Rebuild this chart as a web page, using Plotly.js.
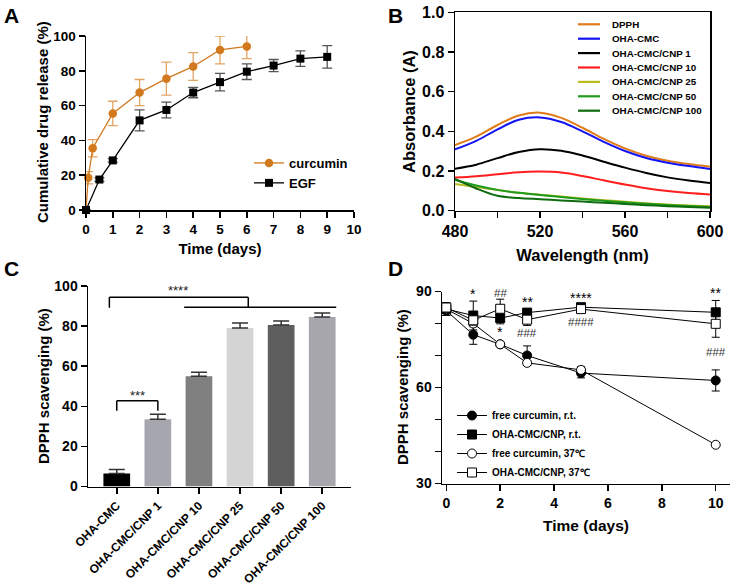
<!DOCTYPE html>
<html><head><meta charset="utf-8">
<script src="https://cdn.plot.ly/plotly-3.0.1.min.js"></script>
<style>body{margin:0;background:#fff;} #chart{width:733px;height:587px;}</style>
</head><body><div id="chart"></div>
<script>
// ---------- DATA ----------
// Panel A: cumulative release
const curTime = [0, 0.083, 0.25, 1, 2, 3, 4, 5, 6];
const curRelease = [0, 18.5, 35.5, 55.5, 67.5, 75.5, 82.5, 92, 94];
const curErr = [0, 3.5, 5, 7, 7.5, 9.5, 8, 8, 7];
const egfTime = [0, 0.5, 1, 2, 3, 4, 5, 6, 7, 8, 9];
const egfRelease = [0, 17.5, 28.5, 51.5, 57.5, 67.5, 73.5, 79.5, 83, 87, 88];
const egfErr = [0, 1, 1, 6, 4.5, 3, 5, 4.5, 3.5, 4.5, 6.5];
const aNames = ['curcumin', 'EGF'];

// Panel B: absorbance spectra
const wavelength = [480, 490, 500, 510, 520, 530, 540, 550, 560, 570, 580, 590, 600];
const absDPPH   = [0.331, 0.373, 0.432, 0.480, 0.494, 0.468, 0.418, 0.362, 0.314, 0.277, 0.252, 0.235, 0.222];
const absOHA    = [0.309, 0.352, 0.410, 0.458, 0.470, 0.447, 0.400, 0.347, 0.301, 0.266, 0.242, 0.225, 0.210];
const absCNP1   = [0.212, 0.232, 0.265, 0.296, 0.310, 0.302, 0.278, 0.247, 0.217, 0.190, 0.168, 0.152, 0.140];
const absCNP10  = [0.167, 0.174, 0.184, 0.194, 0.197, 0.192, 0.175, 0.153, 0.132, 0.113, 0.099, 0.089, 0.082];
const absCNP25  = [0.135, 0.120, 0.104, 0.091, 0.081, 0.071, 0.062, 0.053, 0.045, 0.037, 0.031, 0.026, 0.022];
const absCNP50  = [0.155, 0.127, 0.105, 0.090, 0.079, 0.069, 0.059, 0.050, 0.042, 0.035, 0.029, 0.024, 0.019];
const absCNP100 = [0.160, 0.112, 0.075, 0.064, 0.058, 0.052, 0.046, 0.040, 0.034, 0.028, 0.023, 0.019, 0.015];
const bNames = ['DPPH', 'OHA-CMC', 'OHA-CMC/CNP 1', 'OHA-CMC/CNP 10', 'OHA-CMC/CNP 25', 'OHA-CMC/CNP 50', 'OHA-CMC/CNP 100'];

// Panel C: DPPH scavenging bars
const cCategories = ['OHA-CMC', 'OHA-CMC/CNP 1', 'OHA-CMC/CNP 10', 'OHA-CMC/CNP 25', 'OHA-CMC/CNP 50', 'OHA-CMC/CNP 100'];
const cValues = [6.5, 33.5, 55, 79, 80.5, 84.5];
const cErrors = [2, 2.5, 2, 2.5, 2, 2];
const cSigText = ['***', '****'];
const cSigX = [0.5, 1.49];
const cSigY = [45.5, 97.8];
// bracket polylines (category index, value)
const cBracket1X = [0, 0, 1, 1];
const cBracket1Y = [37.8, 42.8, 42.8, 37.8];
const cBracket2X = [-0.18, -0.18, 3.2, 3.2];
const cBracket2Y = [89.2, 94.4, 94.4, 89.4];
const cBracket3X = [1.64, 5.34];
const cBracket3Y = [89.4, 89.4];

// Panel D: stability over time
const dTime = [0, 1, 2, 3, 5, 10];
const freeRT = [84, 76.5, 73.5, 70, 64.5, 62.2];
const freeRTErr = [1.5, 3, 0.5, 3, 1.5, 3.3];
const cnpRT = [84.5, 82.5, 81.7, 83.4, 85.1, 83.5];
const cnpRTErr = [2, 4.5, 1.8, 0.8, 0.8, 3.7];
const free37 = [84.5, 80, 73.5, 67.7, 65.5, 42.1];
const free37Err = [1, 1, 0.5, 0.5, 1, 0.5];
const cnp37 = [85, 81, 84.6, 81.2, 84.5, 79.9];
const cnp37Err = [1.5, 1.5, 3, 1.8, 0.8, 4.2];
const dNames = ['free curcumin, r.t.', 'OHA-CMC/CNP, r.t.', 'free curcumin, 37\u2103', 'OHA-CMC/CNP, 37\u2103'];
const dSigText = ['*', '##', '*', '**', '###', '****', '####', '**', '###'];
const dSigX = [1, 2, 2, 3, 3, 5, 5, 10, 10];
const dSigY = [89.3, 89.5, 77.5, 86.6, 77.1, 87.9, 80.4, 89.4, 71];

const panelLabels = ['A', 'B', 'C', 'D'];
const yTitles = ['Cumulative drug release (%)', 'Absorbance (A)', 'DPPH scavenging (%)', 'DPPH scavenging (%)'];

// ---------- STYLE ----------
const FONT = 'Liberation Sans, Arial, Helvetica, sans-serif';
const W = 733, H = 587;
const px = v => v / W;
const py = v => 1 - v / H;
const bColors = ['#E07B1A', '#1414F0', '#000000', '#FF1E1E', '#BDBD1E', '#1E9A1E', '#0F6B0F'];
const barColors = ['#000000', '#A6A6AE', '#808080', '#D4D4D4', '#5E5E5E', '#A6A6AC'];
const curColor = '#D2791E';
const bSeriesData = [absDPPH, absOHA, absCNP1, absCNP10, absCNP25, absCNP50, absCNP100];

function axisBase(extra) {
  return Object.assign({
    showgrid: false, zeroline: false, showline: true, linecolor: '#000', linewidth: 1.5,
    ticks: 'outside', ticklen: 6, tickwidth: 1.5, tickcolor: '#000',
    tickfont: {family: FONT, size: 13.5, color: '#000', weight: 700}
  }, extra);
}
function titleObj(text, size, standoff) {
  return {text: text, font: {family: FONT, size: size, color: '#000', weight: 700}, standoff: standoff};
}

const traces = [];
// Panel A
traces.push({
  x: curTime, y: curRelease, xaxis: 'x', yaxis: 'y', name: aNames[0], mode: 'lines+markers',
  line: {color: curColor, width: 1.3}, marker: {symbol: 'circle', size: 8.5, color: curColor},
  error_y: {type: 'data', array: curErr, visible: true, color: '#E3A564', thickness: 1.3, width: 5},
  cliponaxis: false, legend: 'legend'
});
traces.push({
  x: egfTime, y: egfRelease, xaxis: 'x', yaxis: 'y', name: aNames[1], mode: 'lines+markers',
  line: {color: '#000', width: 1.3}, marker: {symbol: 'square', size: 8, color: '#000'},
  error_y: {type: 'data', array: egfErr, visible: true, color: '#555', thickness: 1.3, width: 5},
  cliponaxis: false, legend: 'legend'
});
// Panel B
for (let i = 0; i < bNames.length; i++) {
  traces.push({
    x: wavelength, y: bSeriesData[i], xaxis: 'x2', yaxis: 'y2', name: bNames[i], mode: 'lines',
    line: {color: bColors[i], width: 2, shape: 'spline'}, showlegend: false
  });
}
// Panel C
traces.push({
  type: 'bar', x: cCategories, y: cValues, xaxis: 'x3', yaxis: 'y3', width: 0.65,
  marker: {color: barColors, line: {width: 0}}, showlegend: false,
  error_y: {type: 'data', symmetric: false, array: cErrors, arrayminus: cErrors.map(() => 0),
            color: '#333', thickness: 1.5, width: 8}
});
// Panel D
const dSeries = [freeRT, cnpRT, free37, cnp37];
const dErrs = [freeRTErr, cnpRTErr, free37Err, cnp37Err];
const dSymbols = ['circle', 'square', 'circle', 'square'];
const dFill = ['#000', '#000', '#fff', '#fff'];
for (let i = 0; i < 4; i++) {
  traces.push({
    x: dTime, y: dSeries[i], xaxis: 'x4', yaxis: 'y4', name: dNames[i], mode: 'lines+markers',
    line: {color: '#000', width: 1}, legend: 'legend3',
    marker: {symbol: dSymbols[i], size: 9, color: dFill[i], line: {color: '#000', width: 1}},
    error_y: {type: 'data', array: dErrs[i], visible: true, color: '#000', thickness: 1, width: 4},
    cliponaxis: false
  });
}

const annotations = [];
const shapes = [];
// brackets in C (line segments in data coordinates, category index on x)
[[cBracket1X, cBracket1Y], [cBracket2X, cBracket2Y], [cBracket3X, cBracket3Y]].forEach(b => {
  for (let k = 0; k < b[0].length - 1; k++) {
    shapes.push({type: 'line', xref: 'x3', yref: 'y3', x0: b[0][k], y0: b[1][k], x1: b[0][k + 1], y1: b[1][k + 1],
                 line: {color: '#000', width: 1.5}});
  }
});
// panel letters
const labelPos = [[2, 2], [386, 2], [2, 255], [386, 255]];
panelLabels.forEach((t, i) => annotations.push({
  text: t, xref: 'paper', yref: 'paper', x: px(labelPos[i][0]), y: py(labelPos[i][1]),
  xanchor: 'left', yanchor: 'top', showarrow: false,
  font: {family: FONT, size: 21, color: '#000', weight: 700}
}));
// y-axis titles
const yTitlePos = [[43, 122], [409, 112], [43, 386], [402, 387]];
const yTitleSize = [15, 16.5, 15, 15];
yTitles.forEach((t, i) => annotations.push({
  text: t, xref: 'paper', yref: 'paper', x: px(yTitlePos[i][0]), y: py(yTitlePos[i][1]),
  xanchor: 'center', yanchor: 'middle', textangle: -90, showarrow: false,
  font: {family: FONT, size: yTitleSize[i], color: '#000', weight: 700}
}));
// C significance
cSigText.forEach((t, i) => annotations.push({
  text: t, xref: 'x3', yref: 'y3', x: cSigX[i], y: cSigY[i], showarrow: false,
  font: {family: FONT, size: 13, color: '#222'}
}));
// D significance
dSigText.forEach((t, i) => {
  const isStar = t.indexOf('*') >= 0;
  annotations.push({
    text: t, xref: 'x4', yref: 'y4', x: dSigX[i], y: dSigY[i], showarrow: false,
    font: {family: FONT, size: isStar ? 14 : 11.5, color: isStar ? '#000' : '#333'}
  });
});
// custom legend for B
const bLegTop = 24.3, bLegStep = 14.4;
bNames.forEach((n, i) => {
  const yy = bLegTop + i * bLegStep;
  shapes.push({type: 'line', xref: 'paper', yref: 'paper', x0: px(578), x1: px(600), y0: py(yy), y1: py(yy),
               line: {color: bColors[i], width: 2.2}});
  annotations.push({text: n, xref: 'paper', yref: 'paper', x: px(610), y: py(yy), xanchor: 'left', yanchor: 'middle',
                    showarrow: false, font: {family: FONT, size: 9.8, color: '#000', weight: 700}});
});

const layout = {
  width: W, height: H, margin: {l: 0, r: 0, t: 0, b: 0}, paper_bgcolor: '#fff', plot_bgcolor: 'rgba(0,0,0,0)',
  font: {family: FONT, color: '#000'},
  showlegend: true,
  xaxis: axisBase({domain: [px(86), px(354)], range: [0, 10], dtick: 1, anchor: 'y',
                   title: titleObj('Time (days)', 15, 8)}),
  yaxis: axisBase({domain: [py(210), py(36)], range: [0, 100], dtick: 20, anchor: 'x'}),
  xaxis2: axisBase({domain: [px(455), px(710)], range: [480, 600], dtick: 40, anchor: 'y2', mirror: true,
                    minor: {dtick: 20, ticklen: 6, tickwidth: 1.5, tickcolor: '#000', ticks: 'outside'},
                    tickfont: {family: FONT, size: 16, color: '#000', weight: 700},
                    title: titleObj('Wavelength (nm)', 16.5, 10)}),
  yaxis2: axisBase({domain: [py(210.7), py(12.3)], range: [0, 1], dtick: 0.2, tickformat: '.1f', anchor: 'x2', mirror: true,
                    tickfont: {family: FONT, size: 16, color: '#000', weight: 700}}),
  xaxis3: axisBase({domain: [px(88), px(351)], type: 'category', range: [-0.7, 5.7], anchor: 'y3', tickangle: -45,
                    tickfont: {family: FONT, size: 12, color: '#000', weight: 700}}),
  yaxis3: axisBase({domain: [py(486.5), py(286)], range: [0, 100], dtick: 20, anchor: 'x3',
                    tickfont: {family: FONT, size: 14, color: '#000', weight: 700}}),
  xaxis4: axisBase({domain: [px(442), px(730)], range: [-0.16, 10.53], dtick: 2, tick0: 0, anchor: 'y4',
                    tickfont: {family: FONT, size: 14, color: '#000', weight: 700},
                    title: titleObj('Time (days)', 15.5, 10)}),
  yaxis4: axisBase({domain: [py(483.5), py(291.5)], range: [30, 90], dtick: 30, anchor: 'x4',
                    minor: {dtick: 10, ticklen: 6, tickwidth: 1.5, tickcolor: '#000', ticks: 'outside'},
                    tickfont: {family: FONT, size: 14, color: '#000', weight: 700}}),
  legend: {x: px(249), y: py(148), xanchor: 'left', yanchor: 'top', bgcolor: 'rgba(0,0,0,0)',
           font: {family: FONT, size: 13, color: '#000', weight: 700}},
  legend3: {x: px(452), y: py(401), xanchor: 'left', yanchor: 'top', bgcolor: 'rgba(0,0,0,0)',
            font: {family: FONT, size: 10, color: '#000', weight: 700}},
  annotations: annotations,
  shapes: shapes
};

Plotly.newPlot('chart', traces, layout, {staticPlot: true, displayModeBar: false});
</script>
</body></html>
